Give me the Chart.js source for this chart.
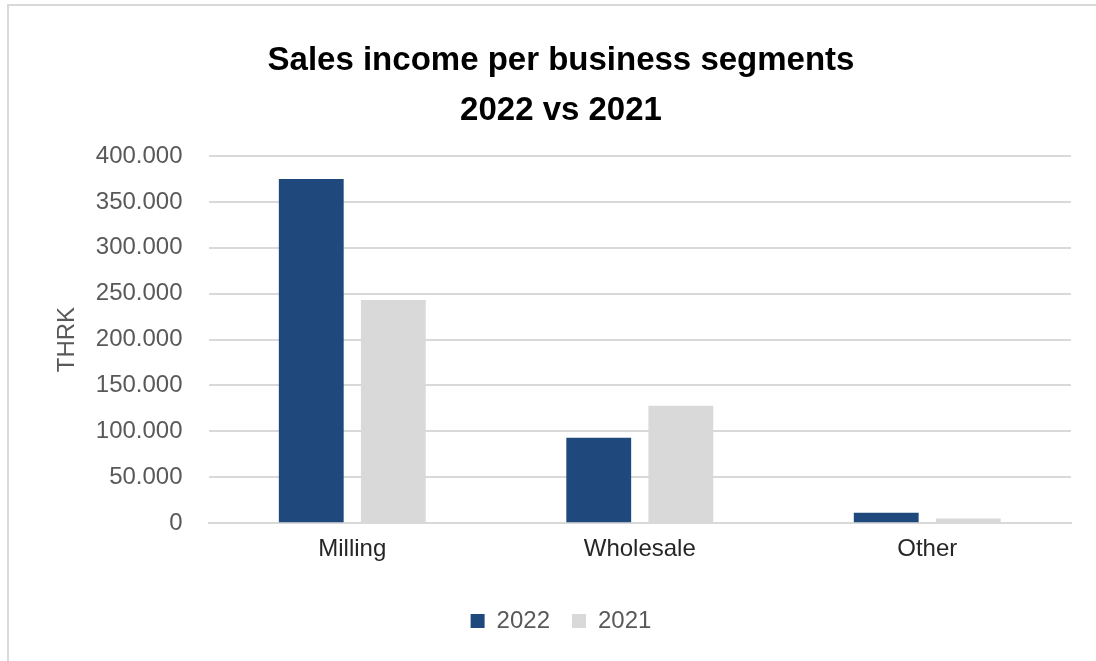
<!DOCTYPE html>
<html>
<head>
<meta charset="utf-8">
<script src="https://cdn.jsdelivr.net/npm/chart.js@4"></script>
<style>
  html, body { margin: 0; padding: 0; background: #fff; overflow: hidden; }
  #frame {
    position: absolute; left: 7px; top: 4px; width: 1200px; height: 800px;
    border-top: 2px solid #d9d9d9; border-left: 2px solid #d9d9d9;
  }
  #wrap { position: absolute; left: 0; top: 0; width: 1096px; height: 661px; }
</style>
</head>
<body>
<div id="frame"></div>
<div id="wrap"><canvas id="chart" width="1096" height="661"></canvas></div>
<script>
// Sales income per segment, in thousands of HRK
const segments = ['Milling', 'Wholesale', 'Other'];
const sales2022 = [375000, 93000, 11300];
const sales2021 = [243000, 128000, 5000];
const yTicks = [0, 50000, 100000, 150000, 200000, 250000, 300000, 350000, 400000];

const FONT = "'Liberation Sans', Arial, sans-serif";

// thousands separated with a dot, e.g. 250.000
function fmt(v) {
  return String(Math.round(v)).replace(/\B(?=(\d{3})+(?!\d))/g, '.');
}

new Chart(document.getElementById('chart'), {
  type: 'bar',
  data: {
    labels: segments,
    datasets: [
      { label: '2022', data: sales2022, backgroundColor: '#1f497d' },
      { label: '2021', data: sales2021, backgroundColor: '#d9d9d9' }
    ]
  },
  options: {
    responsive: false,
    animation: false,
    devicePixelRatio: 1,
    layout: { padding: { left: 51, right: 25, top: 0, bottom: 18 } },
    datasets: { bar: { categoryPercentage: 0.571, barPercentage: 0.79 } },
    plugins: {
      title: {
        display: true,
        text: ['Sales income per business segments', '2022 vs 2021'],
        color: '#000',
        font: { family: FONT, size: 33, weight: 'bold', lineHeight: 1.515 },
        padding: { top: 36, bottom: 20 }
      },
      legend: {
        position: 'bottom',
        labels: {
          color: '#595959',
          font: { family: FONT, size: 24 },
          boxWidth: 14, boxHeight: 14,
          padding: 22
        }
      },
      tooltip: { enabled: false }
    },
    scales: {
      x: {
        grid: { display: false, drawTicks: false },
        border: { display: true, color: '#d9d9d9', width: 2 },
        ticks: { color: '#262626', font: { family: FONT, size: 24 }, padding: 12 },
        // extra room between the category labels and the legend
        afterFit: (axis) => { axis.height += 11; }
      },
      y: {
        min: 0, max: 400000,
        afterBuildTicks: (axis) => { axis.ticks = yTicks.map(v => ({ value: v })); },
        grid: { color: '#d9d9d9', lineWidth: 2, drawTicks: false },
        border: { display: false },
        ticks: {
          color: '#595959', font: { family: FONT, size: 24 }, padding: 26,
          callback: (v) => fmt(v)
        },
        title: {
          display: true, text: 'THRK', color: '#595959',
          font: { family: FONT, size: 24 }, padding: { top: 2, bottom: -12 }
        }
      }
    }
  }
});
</script>
</body>
</html>
